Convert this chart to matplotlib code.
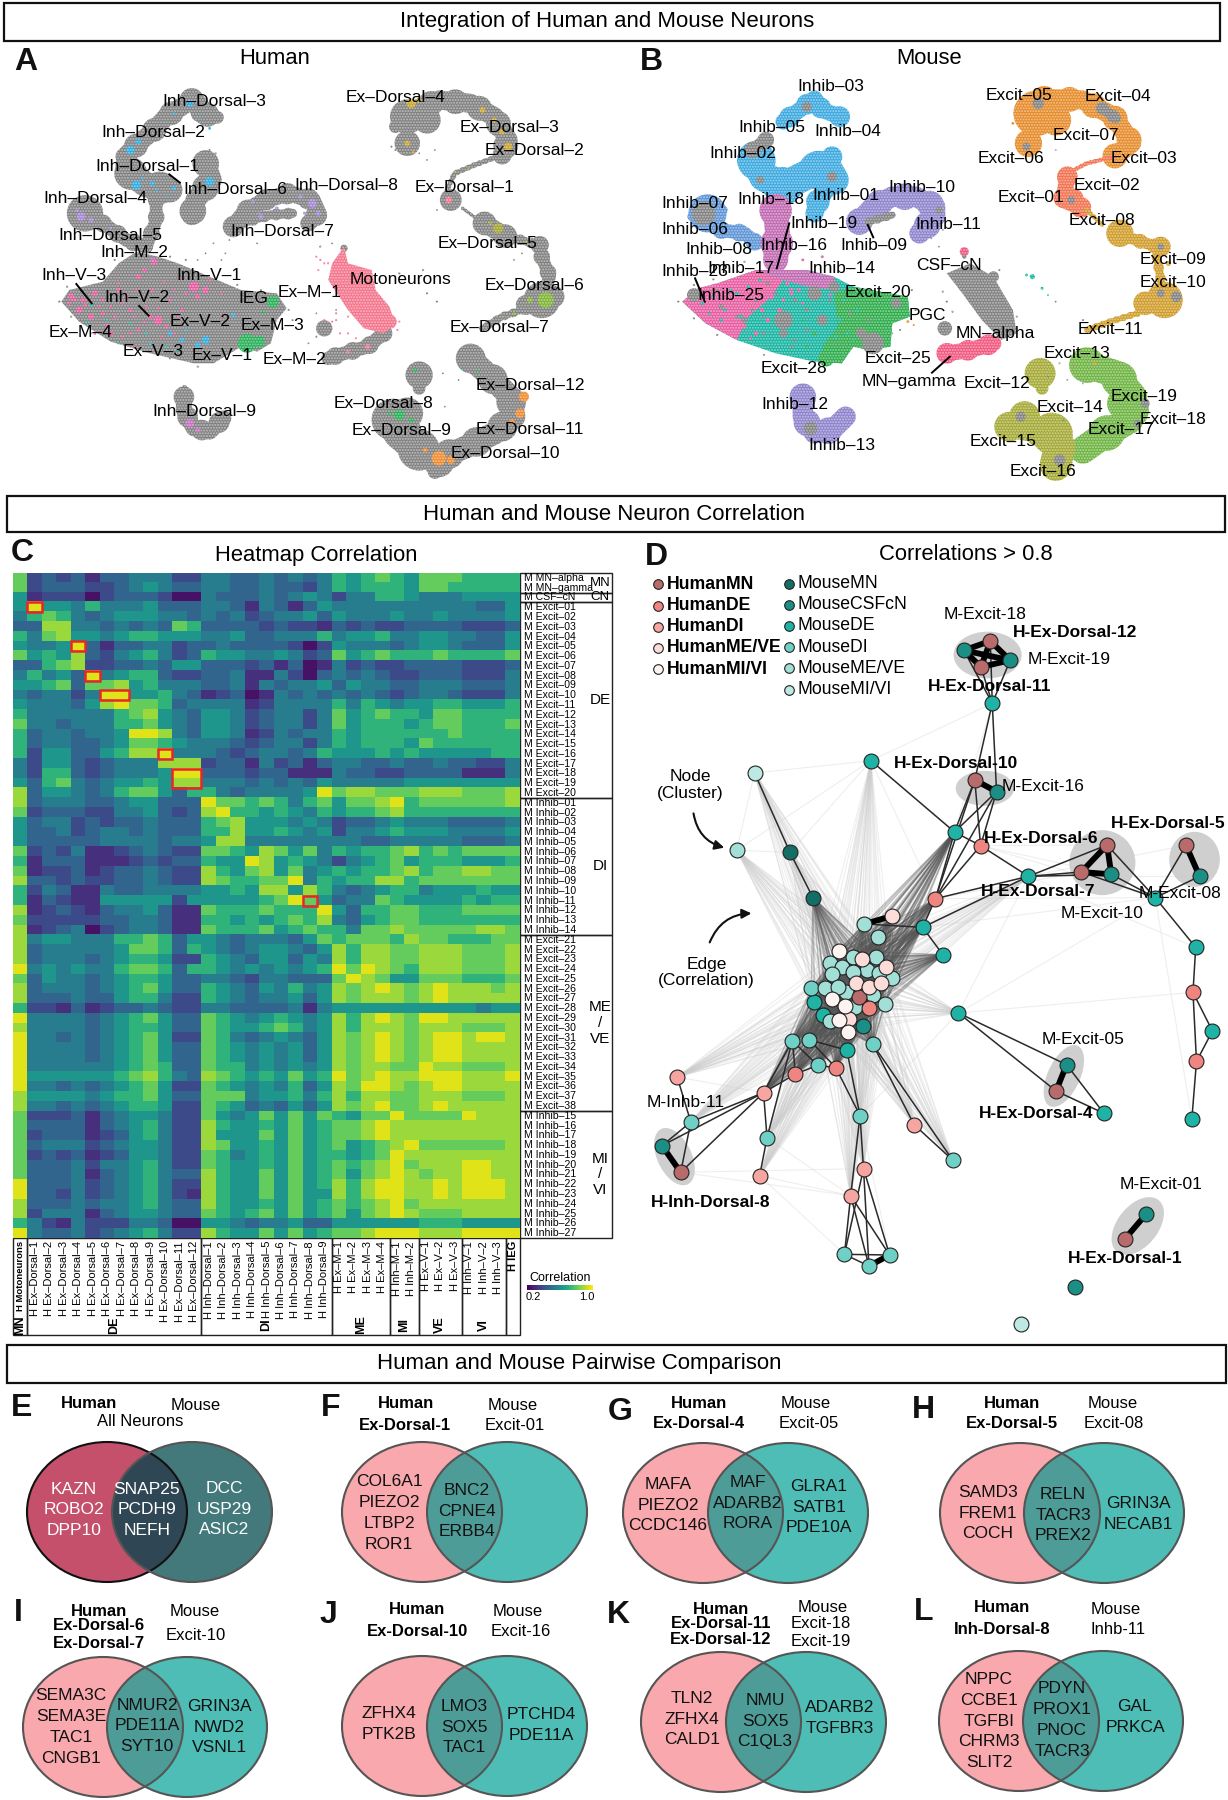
import numpy as np
import matplotlib
matplotlib.use("Agg")
import matplotlib.pyplot as plt
from matplotlib.patches import Ellipse, Rectangle, FancyArrowPatch
from matplotlib.collections import LineCollection

plt.rcParams['font.family'] = ['Liberation Sans', 'DejaVu Sans']

W, H = 1228, 1800

# ---------- heatmap data, one digit per cell, looked up in heat_levels
heat_levels = [0.24, 0.31, 0.38, 0.46, 0.54, 0.62, 0.72, 0.81, 0.88, 0.96]
row_labels = ["M MN\u2013alpha", "M MN\u2013gamma", "M CSF\u2013cN"] \
    + ["M Excit\u2013%02d" % i for i in range(1, 21)] \
    + ["M Inhib\u2013%02d" % i for i in range(1, 15)] \
    + ["M Excit\u2013%02d" % i for i in range(21, 39)] \
    + ["M Inhib\u2013%02d" % i for i in range(15, 28)]
col_labels = ["H Motoneurons"] + ["H Ex\u2013Dorsal\u2013%d" % i for i in range(1, 13)] \
    + ["H Inh\u2013Dorsal\u2013%d" % i for i in range(1, 10)] \
    + ["H Ex\u2013M\u2013%d" % i for i in range(1, 5)] + ["H Inh\u2013M\u20131", "H Inh\u2013M\u20132"] \
    + ["H Ex\u2013V\u2013%d" % i for i in range(1, 4)] + ["H Inh\u2013V\u2013%d" % i for i in range(1, 4)] + ["H IEG"]
heat_rows = [
    "72323133444224433434346567657776666",
    "72333223454334433433246566657766666",
    "51222023332004333434542446654445555",
    "59554644453334431431354444444444335",
    "46764345554434342344535444544544445",
    "33884434343763333232213232233332223",
    "64785545665554453344464556445544335",
    "54459313344233433332025444345543335",
    "75658324564236554454237567666766667",
    "33678223343553332313014232233332223",
    "46453945663223341142034343223332224",
    "55673778564443341434453544334443334",
    "43442499556431230143434343234432224",
    "54443589776344441244446465455665556",
    "64444446785435542344247567665776666",
    "74434446675435542344247566656776667",
    "63443445998435541243446566666676666",
    "63443345776544432344246566657666666",
    "62553356889444323443465556565555566",
    "42553234448882331423134433433433224",
    "42663234445993332331114332233331114",
    "53674345565884443434354444455555555",
    "83554346775366434444597887778887778",
    "83444334553339776764675778967777778",
    "72333224453238966565465667866666666",
    "53442323343336785554542334544433334",
    "53342344343336685565452445655544445",
    "53333344443445884444444433444443334",
    "72324112343227765875746566786767777",
    "61333111232336559856542456756665556",
    "71223123343228657857456566786778877",
    "83323223343228766779465668867777777",
    "62431143344445565885864345664555655",
    "61321155555255555679753447655556566",
    "81232134453117666766695366776667777",
    "72222233443116656567684356776666666",
    "81234023443117666756766477877777887",
    "84554446676355434443576777687766677",
    "83444445776365434554358688778887778",
    "83444345665226543553548688778887778",
    "94545446776366545454569798768887778",
    "73544345665334432443337987557776667",
    "83444345675336543546458789878988878",
    "83334335664226543445358788878988888",
    "62213123343224433334145555555555455",
    "94444345675337654565458689879988888",
    "84444345665337655676458688878887778",
    "94434345675227643454358789878998998",
    "94444345675337654545358789878998888",
    "94444345675337654545358789878998888",
    "94444445676337664545458788779887778",
    "95555556786438765657569789889998889",
    "94434345675227654546358799878998888",
    "85555456675337774556468688778887778",
    "84434345665227653435358789778988888",
    "72223134554227545757576577977779888",
    "73333134564228655657567789888888888",
    "72333123564228555757567789888888888",
    "73444234554228755657567567897777778",
    "72323123554227645657566567988888888",
    "73334244564227655657567678978889988",
    "73334134564338655757567578987889988",
    "93334234564228655757568689988989998",
    "93324234564218655757558689988989998",
    "83334344564338655657567678978888888",
    "82444134554337656757567578987778888",
    "64214222443005543445335555556665555",
    "94334234564228655757567789998889999",
]
box_cols = [(1, 1), (4, 4), (5, 5), (6, 7), (10, 10), (11, 12), (20, 20)]
box_rows = [(3, 3), (7, 7), (10, 10), (12, 12), (18, 18), (20, 21), (33, 33)]
row_groups = [("MN", 0, 2), ("CN", 2, 3), ("DE", 3, 23), ("DI", 23, 37), ("ME\n/\nVE", 37, 55), ("MI\n/\nVI", 55, 68)]
col_groups = [("MN", 0, 1), ("DE", 1, 13), ("DI", 13, 22), ("ME", 22, 26), ("MI", 26, 28), ("VE", 28, 31), ("VI", 31, 34), ("", 34, 35)]

# ---------- UMAP clouds: outlines, ribbons (width, points), blobs (x, y, size)
human_mass_x = [155,175,260,300,345,400,450,530,610,700,725,700,685,650,610,540,490,380,280,200]
human_mass_y = [905,870,845,790,755,770,790,830,870,880,925,960,1030,1055,1040,1090,1090,1060,1025,965]
human_motor_x = [870,880,940,950,985,1000,970,920,880,830,840]
human_motor_y = [740,790,810,870,920,975,1000,985,930,840,790]
human_ribbons_gray = [
    (40, [(525,345),(490,295),(460,320),(420,350),(390,390),(350,430),(315,470),(330,520),(380,560)]),
    (28, [(490,310),(500,345),(550,352)]),
    (55, [(330,520),(370,555),(430,570)]),
    (45, [(520,490),(535,540),(495,600),(485,645)]),
    (28, [(395,600),(395,660),(370,740)]),
    (30, [(260,670),(320,720),(370,740)]),
    (36, [(590,680),(620,635),(670,600),(730,580),(790,600),(805,640),(780,670)]),
    (20, [(610,670),(680,645),(740,640)]),
    (30, [(970,1000),(930,1040),(870,1060),(830,1075)]),
    (42, [(1030,340),(1110,300),(1190,310),(1250,350),(1285,420),(1270,465)]),
    (10, [(1270,465),(1200,495),(1150,520),(1130,570)]),
    (6, [(1170,625),(1210,660)]),
    (40, [(1225,670),(1280,710)]),
    (18, [(1290,710),(1360,735)]),
    (28, [(1370,770),(1390,830),(1370,900)]),
    (15, [(1320,930),(1270,950),(1220,985)]),
    (50, [(1190,1075),(1240,1130),(1290,1190),(1300,1250),(1250,1300),(1180,1340),(1120,1370)]),
    (70, [(1060,1350),(1010,1300),(990,1260),(1030,1240)]),
    (35, [(465,1190),(465,1230),(490,1285),(530,1295),(565,1255)]),
    (8, [(465,1160),(465,1190)]),
]
human_gray = [(215,640,100),(1030,350,95),(1080,360,75),(1030,430,70),(1000,380,35),(1140,600,60),(1365,735,50),(1370,900,100),(1330,915,55),(1400,890,60),
    (1060,1125,75),(1060,1165,35),(1110,1385,85),(1100,1415,40),(820,985,45),(870,745,20),(1035,1290,65)]
human_motor = [(985,965,40),(1135,600,18),(930,1040,14),(880,1055,10),(810,780,6),(830,790,6),(1005,990,6),(820,960,6),(850,960,6),(880,950,6),
    (900,930,6),(850,940,6),(840,965,6),(880,1000,6),(900,1015,6),(860,1000,6),(820,790,6),(805,810,6),(1010,965,6),(800,770,6)]
human_pink = [(180,890,18),(200,930,18),(240,880,16),(230,950,16),(280,1000,14),(260,900,10),(300,870,12),(330,930,12),(350,830,14),
    (365,810,12),(390,785,18),(400,960,24),(380,950,14),(420,980,12),(490,860,28),(520,870,18),(500,890,14),(460,930,10),(430,900,10),
    (290,950,10),(350,990,10),(310,1010,8),(340,1040,8),(300,850,8),(440,870,8),(560,880,8),(210,900,14),(560,950,8),(240,1000,8),(260,940,12),
    (320,890,10),(345,870,8),(370,920,8),(385,870,10),(415,845,8),(460,835,8),(270,975,10),(330,1000,8),(175,910,10),(225,900,8),(190,900,10),(215,915,10),
    (250,920,8),(280,920,8),(310,910,8),(340,950,8),(365,965,8),(400,925,8),(450,950,8),(530,840,8),(470,880,10),(410,1010,8),(440,1000,8)]
human_cyan = [(430,1000,12),(460,1020,14),(520,1020,22),(500,1035,16),(590,945,12),(470,990,8),(380,1030,8),(345,555,26),(385,550,14),
    (530,545,25),(440,565,12),(420,590,6),(330,450,24),(350,425,16),(480,310,20),(440,340,8),(500,352,6),(530,385,8),(360,535,8),(395,570,8)]
human_teal = [(230,915,8),(220,970,8),(270,960,8),(330,970,8),(370,1000,8),(450,1050,8),(420,1040,8),(300,1030,6),(640,1020,10)]
human_green = [(690,905,34),(665,935,10),(625,1030,52),(655,1025,34),(1010,1245,30),(1040,1260,14),(1050,1110,12),(1210,1115,8),(1170,1105,6),(985,1240,12)]
human_purple = [(205,650,24),(230,660,14),(195,630,10),(280,685,8),(790,610,24),(805,640,14),(760,590,12),(700,625,10),(660,650,14),(640,605,10),(770,640,8)]
human_orchid = [(480,1270,24),(500,1290,14),(385,780,12)]
human_gold = [(1040,310,26),(1060,300,14),(1220,330,16),(1250,360,14),(1270,395,16),(1285,440,22),(1030,430,16),(1045,455,8),(1185,505,6),(1150,515,6)]
human_olive = [(1260,685,28),(1240,670,10),(1330,725,6)]
human_lime = [(1380,900,44),(1340,900,16),(1300,940,9),(1270,950,6),(1360,790,5)]
human_orange = [(1325,1190,28),(1315,1240,26),(1295,1265,14),(1110,1375,40),(1075,1350,12),(1140,1380,22)]
human_specks = [(470,1160,6),(480,1170,6),(560,780,5),(570,760,5),(540,730,5),(520,760,5),(500,780,5),(580,720,5),(650,730,5),(810,740,6),
    (1010,820,6),(1070,810,6),(1060,850,6),(1080,880,6),(1105,905,6),(850,930,5),(1120,1120,5),(1125,1220,5),(1160,1140,5),(1100,450,5),
    (1080,480,5),(1060,460,5),(1000,450,6),(990,440,6),(1105,630,5),(1190,640,5),(1300,780,5),(1320,760,5),(460,1190,5),(840,730,5),
    (150,905,6),(170,860,6),(250,835,6),(290,780,6),(340,745,6),(430,770,6),(470,780,6),(600,855,6),(660,870,6),(180,950,6),(230,1000,6),
    (730,930,6),(740,960,6),(715,985,6),(500,1100,6),(430,1075,6),(545,460,6),(530,450,6),(505,465,6),(800,940,5),(800,1010,6),(780,1030,5)]

mouse_mass_x = [160,200,250,300,350,480,550,600,740,745,700,695,640,600,570,500,400,300,220]
mouse_mass_y = [905,865,850,830,810,810,830,860,890,950,970,1040,1050,1040,1090,1085,1060,1020,970]
mouse_pink_x = [160,200,250,300,350,420,380,330,300,220]
mouse_pink_y = [905,865,850,830,810,840,900,950,1020,970]
mouse_orchid_x = [350,480,550,560,480,420]
mouse_orchid_y = [810,810,830,870,860,840]
mouse_green_x = [550,600,740,745,700,695,640,600,570,530,520,560]
mouse_green_y = [880,860,890,950,970,1040,1050,1040,1090,1085,1040,980]
mouse_mn_x = [840,900,960,1010,1020,980,930,880]
mouse_mn_y = [820,790,830,930,1000,1020,960,880]
mouse_ribbons_sky = [(35, [(565,350),(520,330),(500,295),(450,340),(420,365)]), (65, [(350,480),(370,530),(420,560),(470,530),(530,500),(550,540)]),
    (35, [(545,470),(530,500)]), (40, [(545,545),(510,600),(500,640)])]
mouse_ribbons_peri = [(30, [(260,690),(320,700),(350,730)])]
mouse_ribbons_purple = [(45, [(615,665),(650,620),(700,590),(760,590),(810,620),(810,650),(770,700)]), (45, [(470,1190),(470,1250),(500,1300),(545,1290),(580,1250)])]
mouse_ribbons_orchid = [(55, [(400,630),(405,700),(400,780)])]
mouse_ribbons_gray = [(28, [(375,420),(340,450)]), (15, [(640,665),(700,645)]), (22, [(1240,325),(1275,355)])]
mouse_ribbons_motor = [(35, [(840,1060),(900,1050),(960,1030)])]
mouse_ribbons_orange = [(42, [(1090,295),(1190,300),(1270,350),(1315,430),(1270,470)])]
mouse_ribbons_red = [(8, [(1270,470),(1200,490),(1150,520)]), (35, [(1150,530),(1140,600),(1190,625)])]
mouse_ribbons_gold = [(8, [(1200,630),(1240,675)]), (25, [(1300,710),(1380,740)]), (18, [(1380,770),(1390,840)]), (12, [(1330,940),(1260,965),(1200,990)])]
mouse_ribbons_lime = [(60, [(1200,1095),(1270,1120),(1320,1190),(1310,1260),(1250,1300),(1190,1350)])]
mouse_ribbons_olive = [(70, [(1110,1300),(1130,1340),(1120,1395)]), (50, [(1000,1280),(1110,1300)])]

mouse_sky = [(350,480,30)]
mouse_peri = [(225,640,105),(185,650,25),(265,630,25)]
mouse_purple = [(770,700,15)]
mouse_orchid = [(520,770,8),(470,780,8),(380,845,12),(440,870,12),(500,875,12),(540,885,10)]
mouse_pink = [(430,850,12),(440,880,12),(410,930,12),(380,960,12),(350,1000,12),(460,870,10),(390,890,14),(320,980,12),(420,900,10),(365,930,12),(335,1015,8),(470,910,8)]
mouse_teal = [(1060,830,14),(1085,865,8),(1045,825,8),(1100,885,5),(210,910,10),(240,890,10),(270,930,10),(300,880,10),(330,860,10),(360,840,10),(260,960,10),(310,950,12),(285,870,8),(230,940,8),
    (540,930,14),(565,960,12),(555,1010,12),(585,1000,10),(610,930,10),(575,900,10),(540,1060,10),(600,1020,8)]
mouse_orange = [(1070,340,125),(1120,360,85),(1040,340,60),(1050,430,75),(1010,370,8),(1220,1090,10),(740,965,8),(755,975,6)]
mouse_red = [(1165,595,55)]
mouse_gold = [(1285,700,75),(1390,740,55),(1400,900,100),(1350,910,65),(1410,790,14)]
mouse_olive = [(1080,1120,85),(1085,1165,35),(1000,1280,65),(1040,1250,85)]
mouse_lime = [(1290,1210,85)]
mouse_motor = [(885,755,25),(1165,1100,4),(840,1050,10)]
mouse_green = [(530,1075,45),(560,1060,30),(1140,1260,6),(1100,1210,5),(500,1000,12),(510,960,10),(480,1040,10),(470,960,8)]
mouse_gray = [(480,320,28),(545,530,28),(360,540,22),(215,640,65),(820,630,20),(490,1285,38),
    (190,885,38),(420,960,50),(500,880,40),(550,860,30),(650,1030,60),(620,1000,30),(710,910,28),(420,1000,24),(520,960,30),(320,960,18),(260,920,15),
    (960,830,30),(835,985,40),(885,770,12),(1075,310,32),(1045,440,22),(1160,600,22),(1430,890,30),(1390,880,22),(1350,1210,25),(1330,1270,20),
    (1030,1250,28),(1130,1380,32),(1390,740,18),(350,900,12),(300,950,10),(380,850,12),(450,900,12),(440,1040,10),(370,1000,10),(280,880,8),(480,990,10),
    (340,930,10),(400,880,10),(480,930,12),(540,900,10),(590,940,10),(640,960,10),(370,950,8),(450,1020,8),(250,870,8)]
mouse_specks = [(820,740,5),(830,690,5),(800,715,5),(1120,905,5),(1190,960,6),(550,1030,5),(575,1040,5),(700,1000,5),(1120,450,5),(1085,480,5),
    (1100,1130,5),(1150,1140,5),(1190,1150,5),(1130,1090,5),(470,1160,5),(575,1235,5),(150,905,6),(190,855,6),(240,838,6),(320,785,6),(190,955,6),(250,1005,6),
    (370,1065,6),(500,1098,6),(750,870,6),(760,930,6),(720,990,6),(830,875,6),(840,905,6),(855,935,6),(975,810,6),(1020,950,6)]

human_labels = [("Inh\u2013Dorsal\u20133",543,303),("Inh\u2013Dorsal\u20132",387,397),("Inh\u2013Dorsal\u20131",372,500),("Inh\u2013Dorsal\u20136",595,570),
    ("Inh\u2013Dorsal\u20138",877,558),("Inh\u2013Dorsal\u20134",240,595),("Inh\u2013Dorsal\u20137",715,695),("Inh\u2013Dorsal\u20135",280,708),
    ("Inh\u2013M\u20132",340,758),("Inh\u2013V\u20133",186,828),("Inh\u2013V\u20131",528,826),("Inh\u2013V\u20132",347,893),("IEG",640,895),
    ("Ex\u2013M\u20131",782,878),("Ex\u2013V\u20132",507,963),("Ex\u2013M\u20133",688,977),("Ex\u2013M\u20134",204,998),("Ex\u2013V\u20133",386,1055),
    ("Ex\u2013V\u20131",562,1066),("Ex\u2013M\u20132",745,1077),("Motoneurons",1012,837),("Inh\u2013Dorsal\u20139",517,1235),
    ("Ex\u2013Dorsal\u20134",1000,293),("Ex\u2013Dorsal\u20133",1288,382),("Ex\u2013Dorsal\u20132",1353,452),("Ex\u2013Dorsal\u20131",1175,563),
    ("Ex\u2013Dorsal\u20135",1232,731),("Ex\u2013Dorsal\u20136",1352,855),("Ex\u2013Dorsal\u20137",1262,981),("Ex\u2013Dorsal\u201312",1342,1157),
    ("Ex\u2013Dorsal\u20138",970,1211),("Ex\u2013Dorsal\u20139",1015,1291),("Ex\u2013Dorsal\u201311",1340,1288),("Ex\u2013Dorsal\u201310",1278,1360)]
human_leaders = [(193,852,232,910),(352,918,376,947),(428,523,455,548)]
mouse_labels = [("Inhib\u201303",542,260),("Inhib\u201305",390,383),("Inhib\u201304",585,394),("Inhib\u201302",316,462),("Inhib\u201301",580,585),
    ("Inhib\u201318",387,600),("Inhib\u201310",776,561),("Inhib\u201307",193,612),("Inhib\u201319",525,670),("Inhib\u201311",845,673),("Inhib\u201306",193,690),
    ("Inhib\u201316",448,738),("Inhib\u201309",652,738),("Inhib\u201308",255,747),("Inhib\u201317",310,806),("Inhib\u201314",570,806),("Inhib\u201323",193,816),
    ("Inhib\u201325",285,885),("Excit\u201320",662,878),("PGC",790,947),("CSF\u2013cN",845,795),("MN\u2013alpha",965,1000),("Excit\u201325",714,1075),
    ("Excit\u201328",446,1105),("MN\u2013gamma",742,1145),("Inhib\u201312",450,1213),("Inhib\u201313",571,1335),("Excit\u201305",1025,288),("Excit\u201304",1280,289),
    ("Excit\u201307",1198,406),("Excit\u201306",1004,475),("Excit\u201303",1346,475),("Excit\u201302",1253,558),("Excit\u201301",1057,593),("Excit\u201308",1240,661),
    ("Excit\u201309",1422,779),("Excit\u201310",1422,848),("Excit\u201311",1261,990),("Excit\u201313",1176,1062),("Excit\u201312",970,1151),("Excit\u201319",1348,1189),
    ("Excit\u201314",1157,1221),("Excit\u201318",1422,1258),("Excit\u201317",1288,1289),("Excit\u201315",984,1326),("Excit\u201316",1088,1414)]
mouse_leaders = [(435,670,403,805),(637,675,651,712),(193,835,218,905),(848,1070,802,1118)]

# ---------- network nodes by class, keys "c<number>" sit in the central clump
net_human_mn = {"a":(952,303),"d":(928,381),"g":(912,720),"p":(1252,915),"q":(1186,996),"s":(1455,916),"h4":(1121,1653),"h1":(1297,2098),"i8":(156,1897),"cm":(615,1372)}
net_human_de = {"n":(927,917),"v":(811,1076),"e6":(1473,1357),"e5":(1482,1564),"d1":(555,1583),"d2":(451,1602),"cl":(640,1405)}
net_human_di = {"i1":(369,1658),"i2":(147,1611),"i3":(359,1907),"i4":(756,1754),"i5":(626,1886),"i6":(593,1967)}
net_human_me = {"w":(700,1128),"c01":(622,1257),"c02":(685,1280),"c03":(607,1328),"c04":(640,1340),"c05":(672,1330),"c06":(588,1437)}
net_human_mi = {"c07":(562,1232),"c08":(545,1377),"c09":(578,1397),"c10":(563,1440),"c11":(585,1475)}
net_mouse_mn = {"k":(437,937),"l":(496,1073)}
net_mouse_csf = {"b":(884,331),"c":(1003,361),"h":(968,755),"r":(1263,1003),"t":(1490,1009),"m5":(1148,1574),"m1":(1352,2023),"t1":(1170,2242),"m11":(108,1817),"c12":(625,1457)}
net_mouse_de = {"e":(957,490),"f":(645,662),"mm":(860,876),"o":(1050,1009),"u":(1376,1073),"z":(778,1162),"aa":(830,1244),"ab":(1480,1222),"x1":(1244,1720),
    "x2":(1470,1738),"x3":(870,1419),"x4":(1523,1473),"c13":(500,1387),"c14":(522,1425),"x5":(583,1530)}
net_mouse_di = {"c15":(492,1345),"y1":(487,1500),"y2":(650,1513),"y3":(508,1576),"y4":(182,1746),"y5":(378,1793),"y6":(617,1727),"y7":(855,1860),"y8":(577,2143),"y9":(640,2178),"y10":(693,2145),"y11":(443,1502)}
net_mouse_me = {"j":(300,931),"xx":(628,1152),"yy":(664,1191),"c16":(540,1270),"c17":(600,1250),"c18":(658,1250),"c19":(700,1315),"c20":(570,1280),"c21":(545,1302),"c22":(635,1290),
    "c23":(600,1295),"c24":(665,1300),"c25":(527,1345),"c26":(580,1355),"c27":(650,1365),"c28":(680,1392),"c29":(541,1443),"c30":(605,1400),"c31":(560,1340)}
net_mouse_mi = {"i":(346,699),"t2":(1030,2352)}
thick_edges = [("a","b"),("a","c"),("a","d"),("b","c"),("b","d"),("c","d"),("g","h"),("p","q"),("p","r"),("q","r"),("s","t"),("h4","m5"),("h1","m1"),("i8","m11"),("y9","y10"),("w","xx")]
thin_edges = [("a","e"),("d","e"),("c","e"),("b","e"),("e","g"),("e","h"),("f","mm"),("g","mm"),("h","mm"),("g","n"),("h","n"),("h","v"),("g","v"),("mm","n"),("mm","v"),("n","v"),
    ("n","o"),("o","q"),("o","p"),("o","r"),("p","u"),("r","u"),("t","u"),("s","u"),("q","u"),("u","ab"),("ab","e6"),("e6","e5"),("e6","x4"),("x4","e5"),("e5","x2"),("v","o"),("z","o"),
    ("z","aa"),("i","k"),("k","l"),("x3","m5"),("x3","h4"),("m5","x1"),("h4","x1"),("i2","y4"),("y4","m11"),("y4","i8"),("i1","m11"),("i1","y4"),("i1","i8"),("i1","d2"),("i3","y5"),
    ("y11","i1"),("y11","y5"),("y11","d2"),("y2","i4"),("y2","y7"),("i4","y7"),("d1","y6"),("x5","y6"),("y6","i5"),("y6","i6"),("i5","y8"),("i5","y9"),("i5","y10"),("i6","y8"),("i6","y9"),
    ("i6","y10"),("y8","y10"),("y8","y9"),("y1","d1"),("y3","d1"),("y3","d2"),("y3","y11"),("z","v"),("z","xx"),("y5","i1"),("x5","y1")]
mid_hubs = ["v","z","aa","mm","d1","d2","y11","y1","x5","y2","y3","i1","l","w","xx","yy"]
light_hubs = ["j","i","f","k","x3","i2","y6","i4","i5","i6","o","y5","y4","i3","y7"]
faint_edges = [("f","i"),("f","j"),("f","k"),("f","v"),("f","xx"),("f","mm"),("j","k"),("j","i"),("e","f"),("e","mm"),("n","p"),("n","r"),("n","u"),("o","s"),("o","t"),("v","u"),("v","q"),
    ("z","u"),("ab","o"),("x2","u"),("x3","e6"),("x3","u"),("x3","o"),("i3","i6"),("i3","y8"),("i5","i8"),("i6","i8"),("y5","i6"),("i2","i1"),("i2","y11"),("x3","y6"),("y8","y6"),("y10","y6")]
net_ellipses = [(945,345,175,140,0),(938,745,150,105,0),(1240,968,170,195,0),(1477,958,130,165,0),(1141,1608,195,85,-70),(1331,2058,190,110,-60),(140,1850,180,90,70)]
net_bold = [("H-Ex-Dorsal-12",1170,278),("H-Ex-Dorsal-11",950,440),("H-Ex-Dorsal-10",865,670),("H-Ex-Dorsal-6",1083,895),("H-Ex-Dorsal-5",1408,850),("H-Ex-Dorsal-7",1075,1055),
    ("H-Ex-Dorsal-4",1070,1720),("H-Inh-Dorsal-8",233,1987),("H-Ex-Dorsal-1",1298,2155)]
net_plain = [("M-Excit-18",938,223),("M-Excit-19",1155,360),("M-Excit-16",1088,740),("M-Excit-08",1440,1060),("M-Excit-10",1238,1120),("Node\n(Cluster)",180,735),
    ("Edge\n(Correlation)",222,1297),("M-Excit-05",1190,1497),("M-Inhb-11",170,1687),("M-Excit-01",1390,1933)]
legend_human = ["HumanMN", "HumanDE", "HumanDI", "HumanME/VE", "HumanMI/VI"]
legend_mouse = ["MouseMN", "MouseCSFcN", "MouseDE", "MouseDI", "MouseME/VE", "MouseMI/VI"]
c_human = ["#b96b6b", "#ee8580", "#f6a5a0", "#fbdcd9", "#fdf4f2"]
c_mouse = ["#136f66", "#1b8f85", "#1fb3a5", "#6fd0c5", "#a2dfd7", "#bde8e3"]

# ---------- venn panels
venn_left_x = [107, 422, 703, 1020, 103, 422, 721, 1019]
venn_right_x = [192, 507, 788, 1104, 187, 507, 806, 1103]
venn_y = [1512, 1512, 1513, 1513, 1727, 1726, 1722, 1721]
venn_letters = ["E", "F", "G", "H", "I", "J", "K", "L"]
letter_x = [22, 331, 620, 923, 18, 328, 618, 924]
letter_y = [1408, 1408, 1412, 1410, 1613, 1615, 1615, 1612]
genes_left = [["KAZN","ROBO2","DPP10"],["COL6A1","PIEZO2","LTBP2","ROR1"],["MAFA","PIEZO2","CCDC146"],["SAMD3","FREM1","COCH"],
    ["SEMA3C","SEMA3E","TAC1","CNGB1"],["ZFHX4","PTK2B"],["TLN2","ZFHX4","CALD1"],["NPPC","CCBE1","TGFBI","CHRM3","SLIT2"]]
genes_both = [["SNAP25","PCDH9","NEFH"],["BNC2","CPNE4","ERBB4"],["MAF","ADARB2","RORA"],["RELN","TACR3","PREX2"],
    ["NMUR2","PDE11A","SYT10"],["LMO3","SOX5","TAC1"],["NMU","SOX5","C1QL3"],["PDYN","PROX1","PNOC","TACR3"]]
genes_right = [["DCC","USP29","ASIC2"],[],["GLRA1","SATB1","PDE10A"],["GRIN3A","NECAB1"],["GRIN3A","NWD2","VSNL1"],["PTCHD4","PDE11A"],["ADARB2","TGFBR3"],["GAL","PRKCA"]]
gene_left_pos = [(74,1510),(389,1513),(668,1505),(988,1513),(71,1727),(389,1724),(692,1719),(989,1721)]
gene_both_pos = [(147,1510),(467,1511),(748,1503),(1063,1515),(147,1726),(464,1727),(765,1721),(1062,1720)]
gene_right_pos = [(224,1509),(0,0),(819,1507),(1138,1514),(219,1727),(541,1725),(840,1718),(1135,1717)]
head_bold = [("Human",89,1403),("Human",406,1403),("Ex-Dorsal-1",405,1425),("Human",699,1403),("Ex-Dorsal-4",699,1423),("Human",1012,1404),("Ex-Dorsal-5",1012,1424),
    ("Human",99,1611),("Ex-Dorsal-6",99,1626),("Ex-Dorsal-7",99,1644),("Human",417,1610),("Ex-Dorsal-10",418,1632),("Human",721,1609),("Ex-Dorsal-11",721,1624),("Ex-Dorsal-12",721,1640),
    ("Human",1002,1608),("Inh-Dorsal-8",1002,1629)]
head_plain = [("Mouse",196,1405),("All Neurons",140,1422),("Mouse",513,1405),("Excit-01",515,1425),("Mouse",806,1404),("Excit-05",809,1424),("Mouse",1113,1404),("Excit-08",1114,1424),
    ("Mouse",195,1612),("Excit-10",196,1635),("Mouse",518,1611),("Excit-16",521,1632),("Mouse",823,1608),("Excit-18",821,1624),("Excit-19",821,1641),("Mouse",1116,1609),("Inhb-11",1118,1630)]


def px_axes(x0, y0, x1, y1):
    ax = fig.add_axes([x0 / W, 1 - y1 / H, (x1 - x0) / W, (y1 - y0) / H])
    ax.patch.set_alpha(0)
    return ax


def blobs(ax, pts, color, z=2):
    pts = np.array(pts)
    ax.scatter(pts[:, 0], pts[:, 1], s=(pts[:, 2] * 0.262) ** 2, c=color, linewidths=0, zorder=z)


def ribbons(ax, items, color, z=2):
    # solid core plus a wider row of round dashes, which roughens the edge of the band
    for width, pts in items:
        xy = np.array(pts)
        lw = width * 0.262 * 1.25
        ax.plot(xy[:, 0], xy[:, 1], color=color, lw=lw, solid_capstyle="round", solid_joinstyle="round", zorder=z)
        ax.plot(xy[:, 0], xy[:, 1], color=color, lw=lw * 1.3, linestyle=(0, (0.02, 1.0)), dash_capstyle="round", zorder=z)


def flecks(ax, xlim):
    # pale stipple, only shows where the clouds are; stays below the panel titles and above the next banner
    ax.add_patch(Rectangle((0, 225), xlim, 1245, fc="none", ec="white", lw=0, hatch="......", alpha=0.5, zorder=4.5))


fig = plt.figure(figsize=(W / 100, H / 100), dpi=100)

page = px_axes(0, 0, W, H)
page.set_xlim(0, W)
page.set_ylim(H, 0)
page.axis("off")

for (x0, y0, x1, y1), title, cx in [((4, 3, 1220, 41), "Integration of Human and Mouse Neurons", 607),
                                    ((7, 496, 1225, 532), "Human and Mouse Neuron Correlation", 614),
                                    ((7, 1345, 1226, 1383), "Human and Mouse Pairwise Comparison", 579)]:
    page.add_patch(Rectangle((x0, y0), x1 - x0, y1 - y0, fc="white", ec="#111111", lw=1.6))
    page.text(cx, (y0 + y1) / 2, title, ha="center", va="center", fontsize=16)

for s, x, y in [("A", 26, 62), ("B", 651, 62), ("C", 22, 553), ("D", 656, 557)]:
    page.text(x, y, s, ha="center", va="center", fontsize=23, fontweight="bold", color="#111111")
for s, x, y in [("Human", 275, 59), ("Mouse", 929, 59), ("Heatmap Correlation", 316, 555), ("Correlations > 0.8", 966, 555)]:
    page.text(x, y, s, ha="center", va="center", fontsize=15.8)

# A: human UMAP
ax_a = px_axes(0, 0, 620, 500)
ax_a.set_xlim(0, 1568)
ax_a.set_ylim(1500, 0)
ax_a.axis("off")
ax_a.fill(human_mass_x, human_mass_y, color="#7f7f7f", lw=0, zorder=3)
ribbons(ax_a, human_ribbons_gray, "#7f7f7f", 3)
blobs(ax_a, human_gray, "#7f7f7f", 3)
blobs(ax_a, human_specks, "#7f7f7f", 3)
ax_a.fill(human_motor_x, human_motor_y, color="#f4728a", lw=0, zorder=4)
blobs(ax_a, human_motor, "#f4728a", 4)
for pts, col in [(human_pink, "#e6569e"), (human_cyan, "#2aa9e0"), (human_teal, "#14b8a6"), (human_green, "#25ad55"), (human_purple, "#a184d6"),
                 (human_orchid, "#c46cc0"), (human_gold, "#c9a227"), (human_olive, "#a3a32a"), (human_lime, "#7cb332"), (human_orange, "#ef8a2a")]:
    blobs(ax_a, pts, col, 4)
flecks(ax_a, 1568)
for x0, y0, x1, y1 in human_leaders:
    ax_a.plot([x0, x1], [y0, y1], color="black", lw=1.4, zorder=5)
for s, x, y in human_labels:
    ax_a.text(x, y, s, ha="center", va="center", fontsize=12.5, zorder=6)

# B: mouse UMAP
ax_b = px_axes(620, 0, 1228, 500)
ax_b.set_xlim(0, 1563)
ax_b.set_ylim(1500, 0)
ax_b.axis("off")
ax_b.fill(mouse_mass_x, mouse_mass_y, color="#12b3a0", lw=0, zorder=2)
ax_b.fill(mouse_pink_x, mouse_pink_y, color="#e8599f", lw=0, zorder=2)
ax_b.fill(mouse_orchid_x, mouse_orchid_y, color="#c066b0", lw=0, zorder=2)
ax_b.fill(mouse_green_x, mouse_green_y, color="#2aab48", lw=0, zorder=2)
ax_b.fill(mouse_mn_x, mouse_mn_y, color="#7f7f7f", lw=0, zorder=3)
for items, col in [(mouse_ribbons_sky, "#3aa8e0"), (mouse_ribbons_peri, "#5b93d6"), (mouse_ribbons_purple, "#8c82cc"), (mouse_ribbons_orchid, "#c066b0"),
                   (mouse_ribbons_motor, "#f2557d"), (mouse_ribbons_orange, "#e68a27"), (mouse_ribbons_red, "#f2704d"), (mouse_ribbons_gold, "#cf9b27"),
                   (mouse_ribbons_lime, "#6cb33f"), (mouse_ribbons_olive, "#a3a832")]:
    ribbons(ax_b, items, col, 2)
for pts, col in [(mouse_sky, "#3aa8e0"), (mouse_peri, "#5b93d6"), (mouse_purple, "#8c82cc"), (mouse_orchid, "#c066b0"), (mouse_pink, "#e8599f"),
                 (mouse_teal, "#12b3a0"), (mouse_green, "#2aab48"), (mouse_motor, "#f2557d"), (mouse_orange, "#e68a27"), (mouse_red, "#f2704d"),
                 (mouse_gold, "#cf9b27"), (mouse_olive, "#a3a832"), (mouse_lime, "#6cb33f")]:
    blobs(ax_b, pts, col, 2.5)
ribbons(ax_b, mouse_ribbons_gray, "#7f7f7f", 3)
blobs(ax_b, mouse_gray, "#7f7f7f", 3)
blobs(ax_b, mouse_specks, "#7f7f7f", 3)
flecks(ax_b, 1563)
for x0, y0, x1, y1 in mouse_leaders:
    ax_b.plot([x0, x1], [y0, y1], color="black", lw=1.4, zorder=5)
for s, x, y in mouse_labels:
    ax_b.text(x, y, s, ha="center", va="center", fontsize=12.5, zorder=6)

# C: heatmap
heat = np.array([[heat_levels[int(ch)] for ch in row] for row in heat_rows])
ax_c = px_axes(13, 573, 520, 1238)
ax_c.imshow(heat, cmap="viridis", vmin=0.2, vmax=1.0, aspect="auto", interpolation="nearest")
ax_c.set_xticks([])
ax_c.set_yticks([])
for sp in ax_c.spines.values():
    sp.set_visible(False)
for (c0, c1), (r0, r1) in zip(box_cols, box_rows):
    ax_c.add_patch(Rectangle((c0 - 0.5, r0 - 0.5), c1 - c0 + 1, r1 - r0 + 1, fc="none", ec="#e8262a", lw=1.8))

row_h = (1238 - 573) / 68
col_w = (520 - 13) / 35
for i, s in enumerate(row_labels):
    page.text(524, 573 + (i + 0.5) * row_h, s, ha="left", va="center", fontsize=7.6)
for s, r0, r1 in row_groups:
    page.add_patch(Rectangle((520, 573 + r0 * row_h), 92, (r1 - r0) * row_h, fc="none", ec="#222222", lw=1))
    page.text(600, 573 + (r0 + r1) / 2 * row_h, s, ha="center", va="center", fontsize=11 if r1 - r0 > 3 else 9.5, linespacing=1.15)
for i, s in enumerate(col_labels):
    page.text(13 + (i + 0.5) * col_w, 1241, s, rotation=90, ha="center", va="top", fontsize=6.8 if i == 0 else 8.0,
              fontweight="bold" if i in (0, 34) else "normal")
for s, c0, c1 in col_groups:
    page.add_patch(Rectangle((13 + c0 * col_w, 1238), (c1 - c0) * col_w, 97, fc="none", ec="#222222", lw=1))
    page.text(13 + (c0 + c1) / 2 * col_w, 1325, s, rotation=90, ha="center", va="center", fontsize=9, fontweight="bold")

ax_cb = px_axes(527, 1285, 592, 1290)
ax_cb.imshow(np.linspace(0.2, 1.0, 64)[None, :], cmap="viridis", aspect="auto", extent=[0.2, 1.0, 0, 1])
ax_cb.axis("off")
page.text(560, 1278, "Correlation", ha="center", va="center", fontsize=9)
page.text(533, 1297, "0.2", ha="center", va="center", fontsize=8)
page.text(587, 1297, "1.0", ha="center", va="center", fontsize=8)

# D: network
ax_d = px_axes(620, 540, 1228, 1340)
ax_d.set_xlim(0, 1563)
ax_d.set_ylim(2400, 0)
ax_d.axis("off")
node_groups = [(net_mouse_mn, c_mouse[0]), (net_mouse_csf, c_mouse[1]), (net_mouse_de, c_mouse[2]), (net_mouse_di, c_mouse[3]), (net_mouse_me, c_mouse[4]),
               (net_mouse_mi, c_mouse[5]), (net_human_mn, c_human[0]), (net_human_de, c_human[1]), (net_human_di, c_human[2]), (net_human_me, c_human[3]), (net_human_mi, c_human[4])]
pos = {}
for nodes, col in node_groups:
    pos.update(nodes)
core = [k for k in pos if (k[0] == "c" and k[1:].isdigit()) or k in ("cm", "cl")]

for x, y, w, h, ang in net_ellipses:
    ax_d.add_patch(Ellipse((x, y), w, h, angle=ang, fc="#cfcfcf", ec="none", zorder=1))
light_segs = [(pos[h], pos[c]) for h in light_hubs for c in core]
light_segs += [(pos[a], pos[b]) for a, b in faint_edges]
ax_d.add_collection(LineCollection(light_segs, colors="#cccccc", linewidths=0.8, alpha=0.32, zorder=2))
mid_segs = [(pos[h], pos[c]) for h in mid_hubs for c in core]
ax_d.add_collection(LineCollection(mid_segs, colors="#555555", linewidths=1.0, alpha=0.36, zorder=3))
core_segs = [(pos[a], pos[b]) for i, a in enumerate(core) for b in core[i + 1:]]
ax_d.add_collection(LineCollection(core_segs, colors="#555555", linewidths=0.8, alpha=0.3, zorder=3))
ax_d.add_collection(LineCollection([(pos[a], pos[b]) for a, b in thin_edges], colors="#2a2a2a", linewidths=1.1, zorder=4))
ax_d.add_collection(LineCollection([(pos[a], pos[b]) for a, b in thick_edges], colors="black", linewidths=4.2, zorder=4))
for nodes, col in node_groups:
    xy = np.array(list(nodes.values()))
    ax_d.scatter(xy[:, 0], xy[:, 1], s=115, c=col, edgecolors="#222222", linewidths=0.8, zorder=5)

for s, x, y in net_bold:
    ax_d.text(x, y, s, ha="center", va="center", fontsize=12.5, fontweight="bold", zorder=7)
for s, x, y in net_plain:
    ax_d.text(x, y, s, ha="center", va="center", fontsize=12.5, zorder=7, linespacing=1.1)
ax_d.add_patch(FancyArrowPatch((188, 812), (275, 925), connectionstyle="arc3,rad=0.35", arrowstyle="-|>", mutation_scale=14, lw=1.5, color="#111111", zorder=7))
ax_d.add_patch(FancyArrowPatch((228, 1215), (345, 1120), connectionstyle="arc3,rad=-0.35", arrowstyle="-|>", mutation_scale=14, lw=1.5, color="#111111", zorder=7))
for i, (s, col) in enumerate(zip(legend_human, c_human)):
    y = 133 + i * 63.5
    ax_d.scatter([97], [y], s=48, c=col, edgecolors="#222222", linewidths=0.8, zorder=8)
    ax_d.text(120, y, s, ha="left", va="center", fontsize=12.7, fontweight="bold", zorder=8)
for i, (s, col) in enumerate(zip(legend_mouse, c_mouse)):
    y = 131 + i * 63.5
    ax_d.scatter([435], [y], s=48, c=col, edgecolors="#222222", linewidths=0.8, zorder=8)
    ax_d.text(457, y, s, ha="left", va="center", fontsize=12.7, zorder=8)

# E-L: venn panels
for i in range(8):
    lx, rx, cy = venn_left_x[i], venn_right_x[i], venn_y[i]
    if i == 0:
        c_l, c_r, c_o, txt = "#c4506b", "#43797b", "#2f4655", "white"
    else:
        c_l, c_r, c_o, txt = "#f9a8ad", "#4dbdb5", "#4e9c98", "#111111"
    left = Ellipse((lx, cy), 160, 140, fc=c_l, ec="none", zorder=2)
    right = Ellipse((rx, cy), 160, 140, fc=c_r, ec="none", zorder=2)
    page.add_patch(left)
    page.add_patch(right)
    both = Ellipse((rx, cy), 160, 140, fc=c_o, ec="none", zorder=3)
    page.add_patch(both)
    both.set_clip_path(left)
    edge_l = "#111111" if i == 0 else "#555555"
    page.add_patch(Ellipse((lx, cy), 160, 140, fc="none", ec=edge_l, lw=1.5, zorder=4))
    page.add_patch(Ellipse((rx, cy), 160, 140, fc="none", ec="#555555", lw=1.5, zorder=4))
    for genes, (gx, gy) in [(genes_left[i], gene_left_pos[i]), (genes_both[i], gene_both_pos[i]), (genes_right[i], gene_right_pos[i])]:
        n = len(genes)
        for j, g in enumerate(genes):
            page.text(gx, gy + (j - (n - 1) / 2) * 20.7, g, ha="center", va="center", fontsize=12.5, color=txt, zorder=5)
    page.text(letter_x[i], letter_y[i], venn_letters[i], ha="center", va="center", fontsize=23, fontweight="bold", color="#111111", zorder=5)
for s, x, y in head_bold:
    page.text(x, y, s, ha="center", va="center", fontsize=12, fontweight="bold", zorder=5)
for s, x, y in head_plain:
    page.text(x, y, s, ha="center", va="center", fontsize=12, zorder=5)

fig.savefig("out.png", dpi=100)
